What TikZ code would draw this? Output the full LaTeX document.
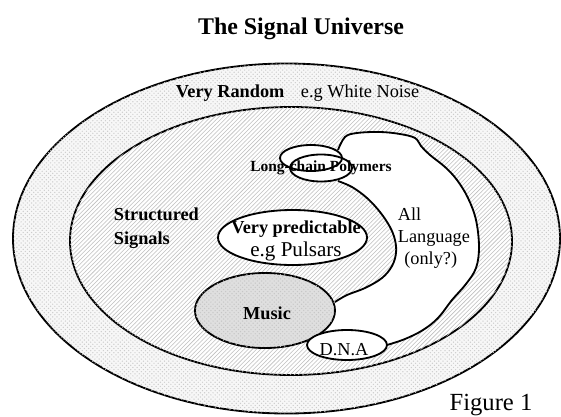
\documentclass[tikz,border=0pt]{standalone}
\usepackage{fontspec}
\setmainfont{Liberation Serif}
\usetikzlibrary{patterns}
\newcommand{\sizept}[2]{\fontsize{#1}{#2}\selectfont}

\begin{document}
\begin{tikzpicture}[x=0.025cm,y=-0.025cm,line width=1.3pt,
  txt/.style={inner sep=0pt,anchor=base},
  lbl/.style={inner sep=0pt,anchor=west,align=left}]
\useasboundingbox (0,0) rectangle (561,416);
% the two big sets
\draw[fill=gray!6,postaction={pattern=crosshatch dots,pattern color=gray!40}] (286.5,238.5) ellipse [x radius=273.5,y radius=175];
\draw[fill=white,postaction={pattern=north east lines,pattern color=gray!50}] (291,241) ellipse [x radius=221,y radius=134];
% language blob
\fill[white] plot[smooth,tension=0.6] coordinates {(338,181) (352,187) (367,198) (380,212) (390,227) (395,240) (396,253) (392,266) (382,278) (365,288) (347,295) (335,302)}
  -- (300,320) -- (347,345)
  -- plot[smooth,tension=0.6] coordinates {(387,345) (405,339) (423,330) (438,318) (452,300) (466,284) (476,268) (479,247) (476,220) (468,198) (457,180) (445,167) (430,155) (421,146) (415,138) (400,134) (380,132) (357,133) (345,137) (338,150)}
  -- (320,165) -- cycle;
\draw plot[smooth,tension=0.6] coordinates {(338,181) (352,187) (367,198) (380,212) (390,227) (395,240) (396,253) (392,266) (382,278) (365,288) (347,295) (335,302)};
\draw plot[smooth,tension=0.6] coordinates {(387,345) (405,339) (423,330) (438,318) (452,300) (466,284) (476,268) (479,247) (476,220) (468,198) (457,180) (445,167) (430,155) (421,146) (415,138) (400,134) (380,132) (357,133) (345,137) (338,150)};
% small sets
\draw[fill=gray!25,postaction={pattern=crosshatch dots,pattern color=gray!45}] (265,310.5) ellipse [x radius=70,y radius=37.5];
\draw[fill=white] (292.5,237.5) ellipse [x radius=74.5,y radius=27.5];
\draw[fill=white] (347,345) ellipse [x radius=40,y radius=15];
\fill[white] (311,158) ellipse [x radius=31,y radius=13];
\fill[white] (321,168) ellipse [x radius=31,y radius=13.5];
\draw (311,158) ellipse [x radius=31,y radius=13];
\draw (321,168) ellipse [x radius=31,y radius=13.5];
% labels
\node[txt,font=\bfseries\sizept{17}{20}] (title) at (301,34) {The Signal Universe};
\node[txt,anchor=base west,font=\bfseries\sizept{13}{16}] (random) at (175,97) {Very Random};
\node[txt,anchor=base west,font=\sizept{13}{16}] (noise) at (300,97) {e.g White Noise};
\node[lbl,font=\bfseries\sizept{13}{17}] (structured) at (113,228) {Structured\\Signals};
\node[inner sep=0pt,align=center,font=\sizept{13}{16.4}] (pred) at (296,241) {\textbf{Very predictable}\\{\sizept{15}{16.4}e.g Pulsars}};
\node[txt,font=\bfseries\sizept{11}{13}] (polymers) at (321,171) {Long-chain Polymers};
\node[txt,font=\bfseries\sizept{13}{16}] (music) at (267,319) {Music};
\node[txt,font=\sizept{13}{16}] (dna) at (344,355) {D.N.A};
\node[lbl,font=\sizept{13}{15.6}] (lang) at (397,238) {All\\Language\\\hspace{0.35em}(only?)};
\node[txt,font=\sizept{17.5}{20}] (fig) at (491,410) {Figure 1};
\end{tikzpicture}
\end{document}
